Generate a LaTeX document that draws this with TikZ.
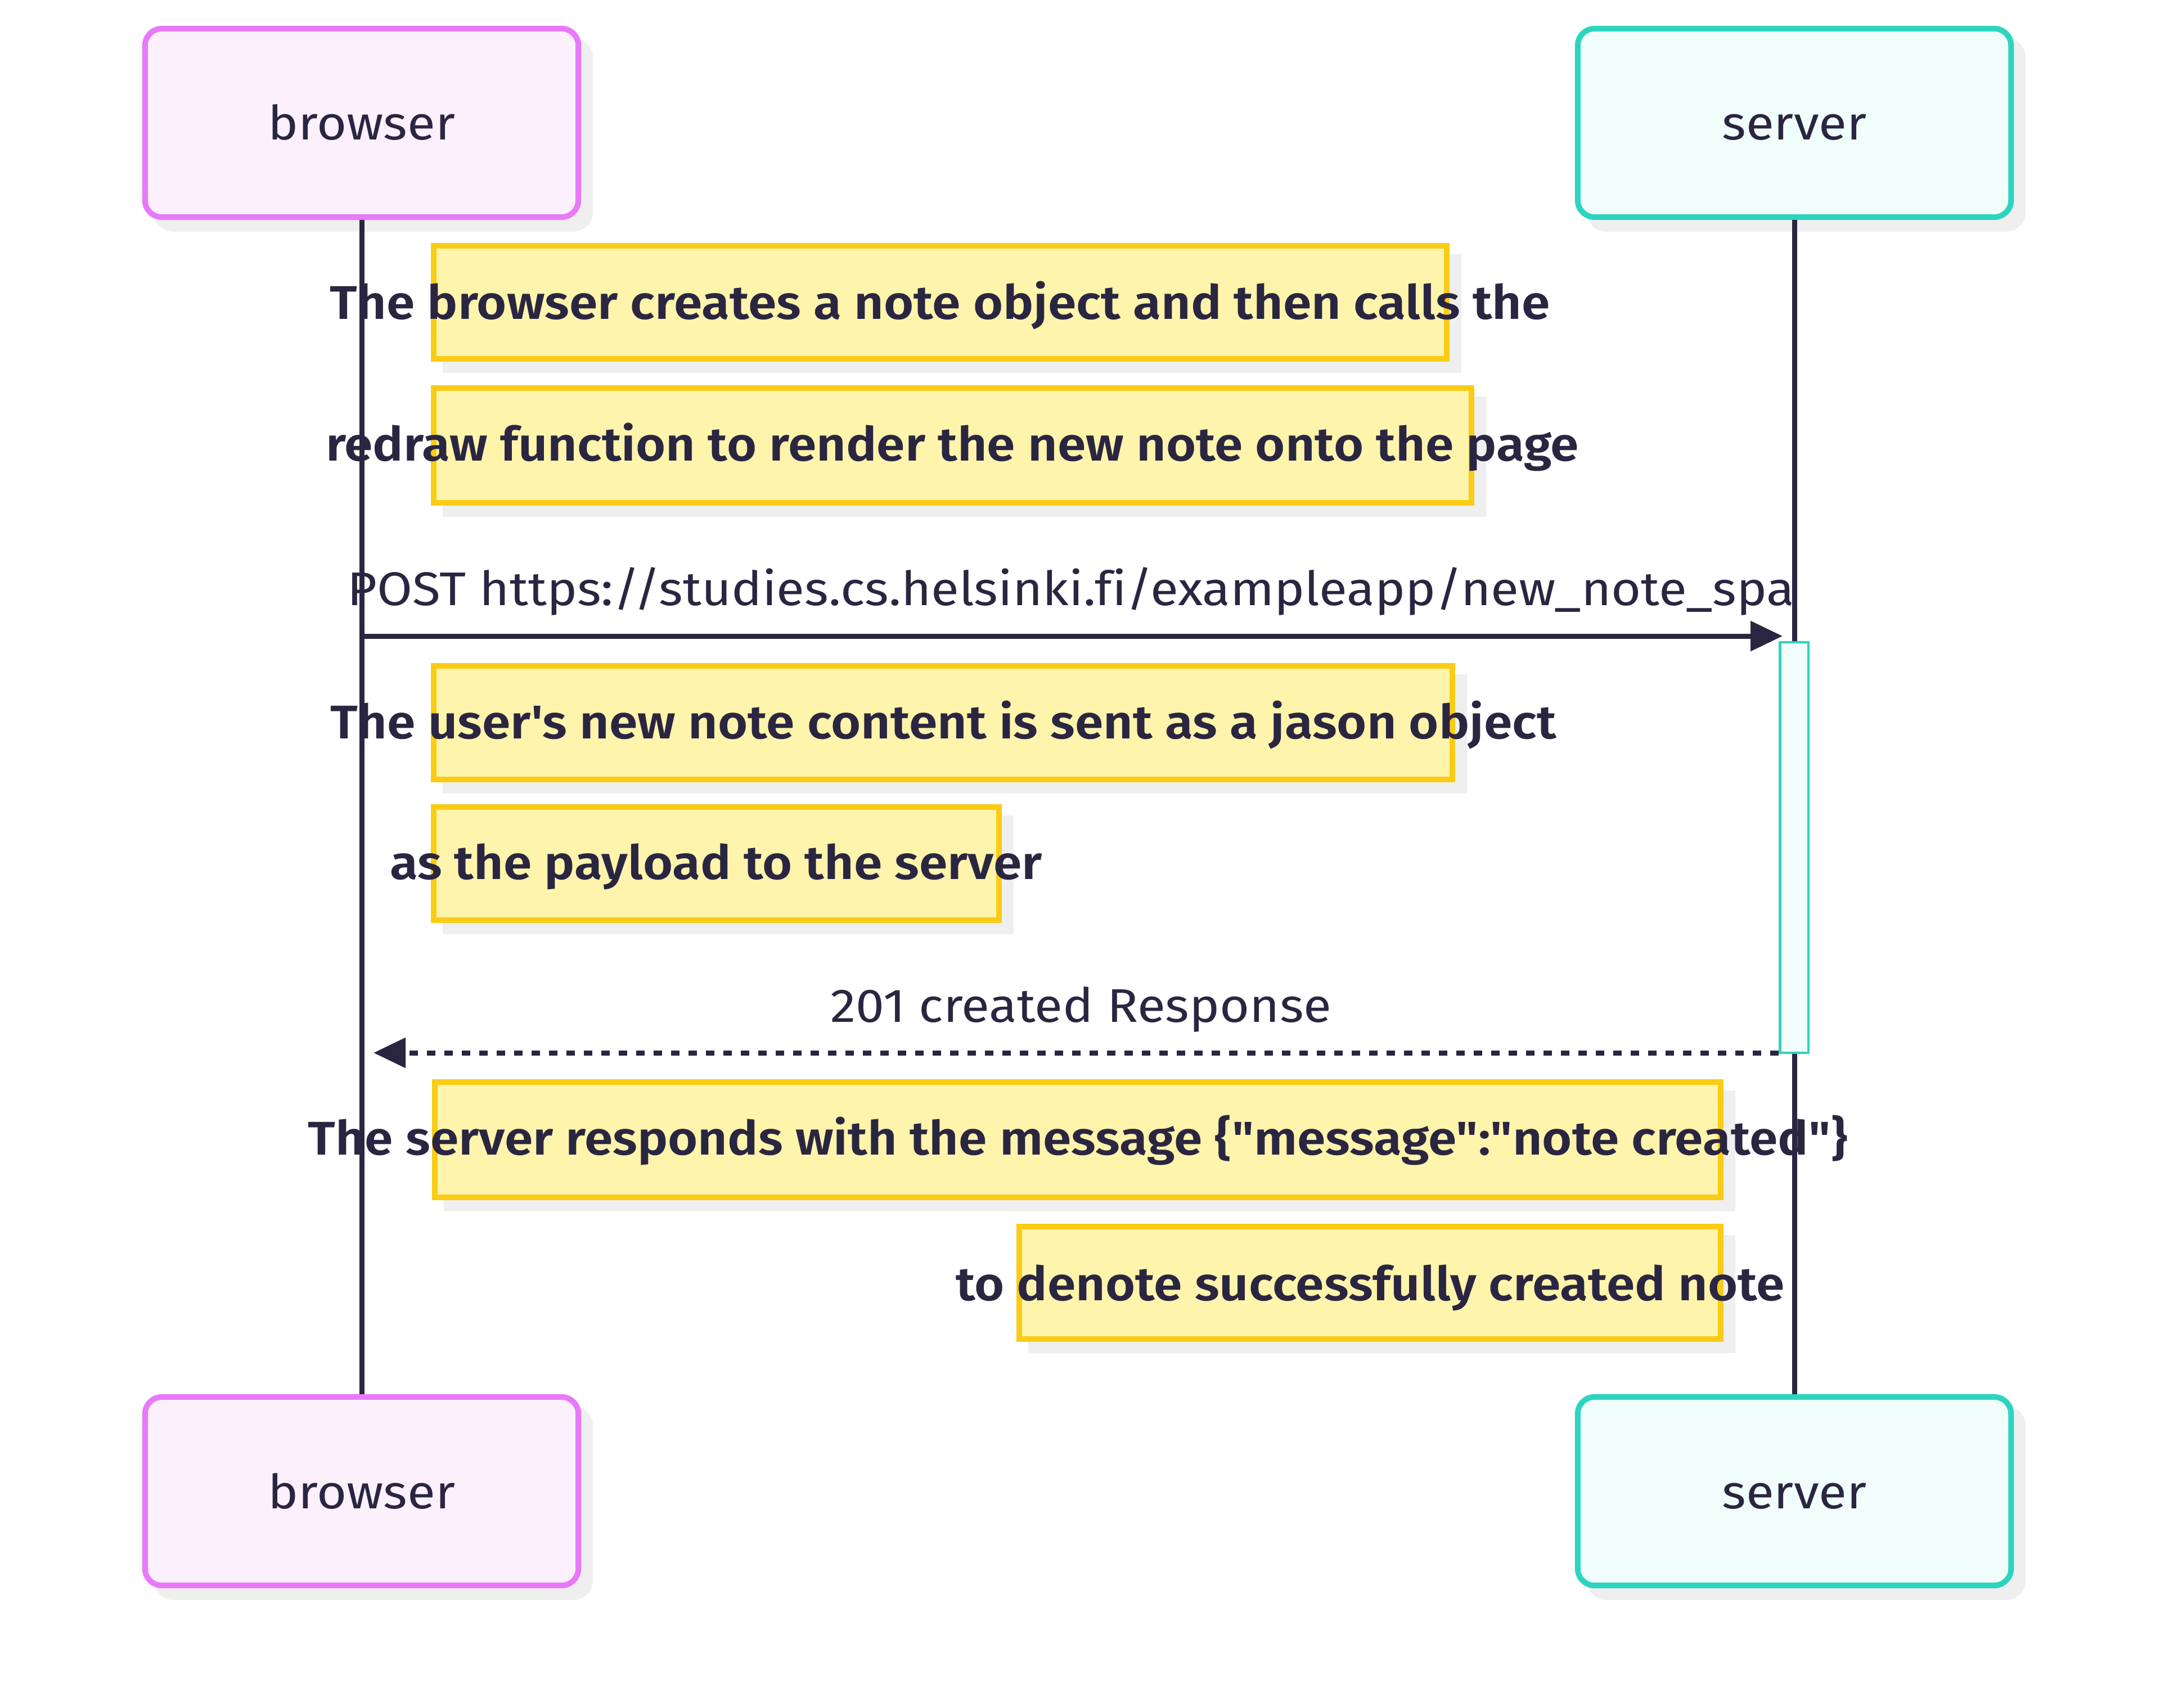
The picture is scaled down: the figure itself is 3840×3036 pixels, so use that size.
\documentclass[tikz,border=0pt]{standalone}
\usepackage{fontspec}
\newfontfamily\ff{Fira Sans}[FakeStretch=1.085, Ligatures=NoCommon, BoldFont={Fira Sans SemiBold}, BoldFeatures={FakeStretch=1.085}]
\usetikzlibrary{arrows.meta}
\definecolor{ink}{HTML}{2A2641}
\definecolor{pinkfill}{HTML}{FDF0FD}
\definecolor{pinkline}{HTML}{E879F9}
\definecolor{tealfill}{HTML}{F0FDFA}
\definecolor{tealline}{HTML}{2DD4BF}
\definecolor{notefill}{HTML}{FEF4AC}
\definecolor{noteline}{HTML}{FACC15}
\definecolor{shadowgray}{HTML}{EFEFEF}
\tikzset{
  actorbox/.style={draw, line width=0.1cm, rounded corners=0.3cm, minimum width=7.7cm, minimum height=3.35cm, inner sep=0pt},
  browserbox/.style={actorbox, draw=pinkline, fill=pinkfill},
  serverbox/.style={actorbox, draw=tealline, fill=tealfill},
  actortext/.style={font=\ff\fontsize{23.9pt}{28pt}\selectfont, text=ink, inner sep=0pt, anchor=base},
  notebox/.style={draw=noteline, fill=notefill, line width=0.1cm, inner sep=0pt},
  notetext/.style={font=\ff\bfseries\fontsize{23.9pt}{28pt}\selectfont, text=ink, inner sep=0pt, anchor=base},
  msgtext/.style={font=\ff\fontsize{23.9pt}{28pt}\selectfont, text=ink, inner sep=0pt, anchor=base},
  lifeline/.style={draw=ink, line width=0.09cm},
  msg/.style={draw=ink, line width=0.09cm},
  tip/.style={-{Triangle[length=0.57cm,width=0.52cm]}},
  actbox/.style={draw=tealline, fill=tealfill, line width=0.045cm, inner sep=0pt, minimum width=0.505cm, minimum height=7.295cm},
}
\newcommand{\actorshadow}[2]{%
  \fill[shadowgray, rounded corners=0.35cm] (#1-390+21,#2-172.5+21) rectangle (#1+390+21,#2+172.5+21);
}
\newcommand{\mynote}[5]{%
  \fill[shadowgray] (#2+21,#3+20) rectangle (#4+21,#5+20);
  \node[notebox, minimum width={(#4-#2-10)*0.01cm}, minimum height={(#5-#3-10)*0.01cm}] (#1) at ({(#2+#4)/2},{(#3+#5)/2}) {};
}
\begin{document}
\begin{tikzpicture}[x=0.01cm,y=-0.01cm]
\useasboundingbox[fill=white] (0,0) rectangle (3840,3036);

% actor shadows
\actorshadow{643}{218.5}
\actorshadow{3190}{218.5}
\actorshadow{643}{2651.5}
\actorshadow{3190}{2651.5}

% actor boxes
\node[browserbox] (b1) at (643,218.5) {};
\node[serverbox] (s1) at (3190,218.5) {};
\node[browserbox] (b2) at (643,2651.5) {};
\node[serverbox] (s2) at (3190,2651.5) {};

% lifelines
\draw[lifeline] (b1.south) -- (b2.north);
\draw[lifeline] (s1.south) -- (s2.north);

% notes
\mynote{n1}{766}{432}{2577}{643}
\mynote{n2}{766}{685}{2621}{899}
\mynote{n3}{766}{1179}{2587}{1391}
\mynote{n4}{766}{1430}{1781}{1641}
\mynote{n5}{768}{1919}{3064}{2134}
\mynote{n6}{1807}{2176}{3064}{2386}

\node[notetext] (t1) at (1671,567) {The browser creates a note object and then calls the};
\node[notetext] (t2) at (1693,819) {redraw function to render the new note onto the page};
\node[notetext] (t3) at (1677,1313) {The user's new note content is sent as a jason object};
\node[notetext] (t4) at (1273,1563) {as the payload to the server};
\node[notetext] (t5) at (1916,2053) {The server responds with the message \{"message":"note created"\}};
\node[notetext] (t6) at (2436,2312) {to denote successfully created note};

% activation
\node[actbox] (act) at (3189.5,1507) {};

% messages
\coordinate (m1s) at (643,1131);
\coordinate (m1e) at (3169,1131);
\draw[msg, tip] (m1s) -- (m1e);
\node[msgtext] (l1) at (1904,1076) {POST https://studies.cs.helsinki.fi/exampleapp/new\_note\_spa};

\coordinate (m2s) at (3162,1872);
\coordinate (m2e) at (664,1872);
\draw[msg, dash pattern=on 0.15cm off 0.16cm, tip] (m2s) -- (m2e);
\node[msgtext] (l2) at (1922,1817) {201 created Response};

% actor labels
\node[actortext] (bt1) at (643,248) {browser};
\node[actortext] (st1) at (3190,248) {server};
\node[actortext] (bt2) at (643,2682) {browser};
\node[actortext] (st2) at (3190,2682) {server};
\end{tikzpicture}
\end{document}
